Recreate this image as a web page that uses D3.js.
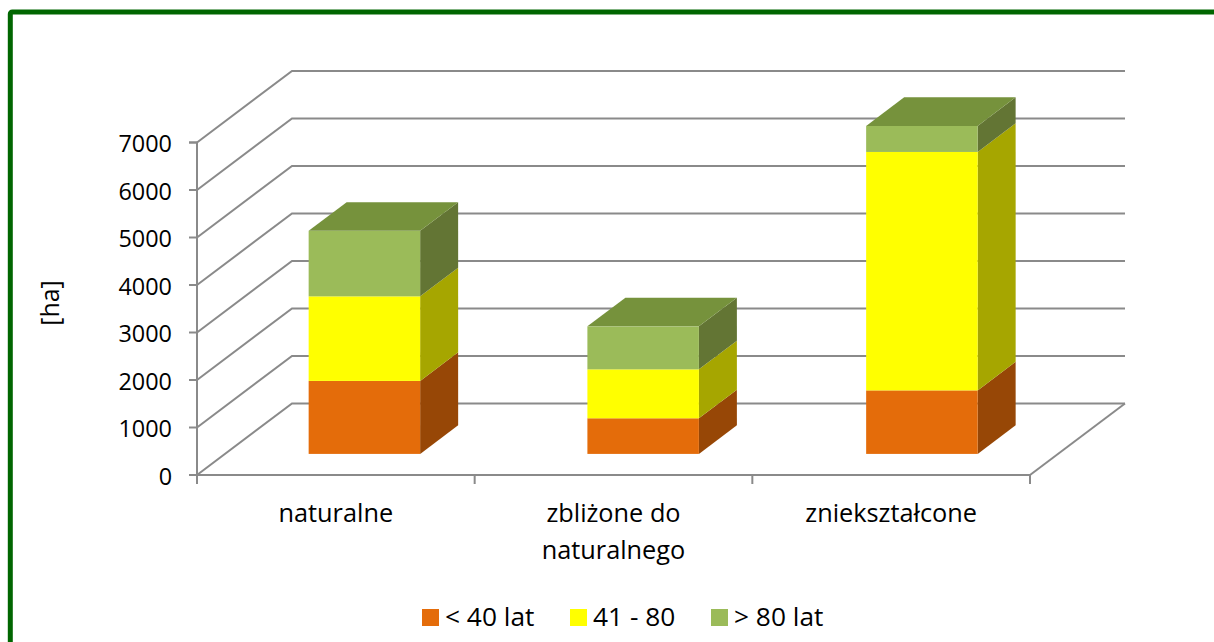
<!DOCTYPE html>
<html>
<head>
<meta charset="utf-8">
<script src="https://cdnjs.cloudflare.com/ajax/libs/d3/7.8.5/d3.min.js"></script>
<style>
html, body { margin: 0; padding: 0; background: #fff; overflow: hidden; }
text { font-family: "Open Sans", sans-serif; fill: #000; }
</style>
</head>
<body>
<div id="chart"></div>
<script>
var categories = ["naturalne", "zbliżone do naturalnego", "zniekształcone"];
var seriesNames = ["< 40 lat", "41 - 80", "> 80 lat"];
var young = [1537, 750, 1337];
var middle = [1780, 1030, 5020];
var old = [1380, 905, 547];
var yTicks = [0, 1000, 2000, 3000, 4000, 5000, 6000, 7000];

var frontColors = ["#e46c0a", "#ffff00", "#9bbb59"];
var sideColors = ["#974706", "#a6a600", "#637534"];
var topColor = "#76923c";
var gridColor = "#8a8a8a";

var width = 1214, height = 642;

// the 3d box: front plane of the axes and how far the back wall is shifted
var left = 197, right = 1030, floor = 475, top7000 = 142.5;
var depthX = 95, depthY = 71.5;
var barStart = 0.295, barDepth = 0.4;

var svg = d3.select("#chart").append("svg")
    .attr("width", width)
    .attr("height", height);

// green frame runs off the right and bottom of the picture
svg.append("rect")
    .attr("x", 10.3)
    .attr("y", 12)
    .attr("width", width + 20)
    .attr("height", height + 20)
    .attr("rx", 2)
    .attr("fill", "none")
    .attr("stroke", "#006600")
    .attr("stroke-width", 5);

var y = d3.scaleLinear().domain([0, 7000]).range([floor, top7000]);
// bars sit a touch wider apart than the axis ticks in the original
var x = d3.scaleBand().domain(categories).range([left, 1033.25]).paddingInner(0.6).paddingOuter(0.3);
var xEdges = d3.scaleLinear().domain([0, 3]).range([left, right]);

// walls
var grid = svg.append("g");
yTicks.forEach(function (t) {
    grid.append("polyline")
        .attr("points", [
            [left, y(t)],
            [left + depthX, y(t) - depthY],
            [right + depthX, y(t) - depthY]
        ].join(" "))
        .attr("fill", "none")
        .attr("stroke", gridColor)
        .attr("stroke-width", 2);
});
grid.append("line")
    .attr("x1", right).attr("y1", floor)
    .attr("x2", right + depthX).attr("y2", floor - depthY)
    .attr("stroke", gridColor)
    .attr("stroke-width", 2);

// axes
var yAxis = d3.axisLeft(y).tickValues(yTicks).tickSize(8).tickPadding(17).offset(0).tickFormat(d3.format("d"));
var gy = svg.append("g").attr("transform", "translate(" + left + ",0)").call(yAxis);
gy.selectAll("text").style("font-size", "23.4px").attr("dy", "0.42em");

var xAxis = d3.axisBottom(xEdges).tickValues([0, 1, 2, 3]).tickSize(9).offset(0).tickFormat("");
var gx = svg.append("g").attr("transform", "translate(0," + floor + ")").call(xAxis);

svg.selectAll(".domain, .tick line")
    .attr("stroke", gridColor)
    .attr("stroke-width", 2);

// stacked boxes
var stack = [young, middle, old];
categories.forEach(function (c, i) {
    var base = 0;
    var bx = x(c) + barStart * depthX;
    var w = x.bandwidth();
    var dx2 = barDepth * depthX, dy2 = barDepth * depthY;
    stack.forEach(function (values, s) {
        var y0 = y(base) - barStart * depthY;
        var y1 = y(base + values[i]) - barStart * depthY;
        svg.append("polygon")
            .attr("points", [[bx + w, y0], [bx + w + dx2, y0 - dy2], [bx + w + dx2, y1 - dy2], [bx + w, y1]].join(" "))
            .attr("fill", sideColors[s]);
        svg.append("rect")
            .attr("x", bx)
            .attr("y", y1)
            .attr("width", w)
            .attr("height", y0 - y1)
            .attr("fill", frontColors[s]);
        base += values[i];
        if (s == stack.length - 1) {
            svg.append("polygon")
                .attr("points", [[bx, y1], [bx + dx2, y1 - dy2], [bx + w + dx2, y1 - dy2], [bx + w, y1]].join(" "))
                .attr("fill", topColor);
        }
    });
});

// category labels, second line where the name is wrapped
var labelLines = [["naturalne"], ["zbliżone do", "naturalnego"], ["zniekształcone"]];
categories.forEach(function (c, i) {
    var label = svg.append("text")
        .attr("text-anchor", "middle")
        .style("font-size", "25.3px");
    labelLines[i].forEach(function (line, j) {
        label.append("tspan")
            .attr("x", xEdges(i + 0.5))
            .attr("y", 522 + j * 37)
            .text(line);
    });
});

// y axis title
svg.append("text")
    .attr("transform", "translate(59,303) rotate(-90)")
    .attr("text-anchor", "middle")
    .style("font-size", "25px")
    .text("[ha]");

// legend
var legendX = [422, 570, 711];
seriesNames.forEach(function (name, i) {
    svg.append("rect")
        .attr("x", legendX[i])
        .attr("y", 609)
        .attr("width", 17)
        .attr("height", 17)
        .attr("fill", frontColors[i]);
    svg.append("text")
        .attr("x", legendX[i] + 23)
        .attr("y", 626)
        .style("font-size", "26.3px")
        .text(name);
});
</script>
</body>
</html>
